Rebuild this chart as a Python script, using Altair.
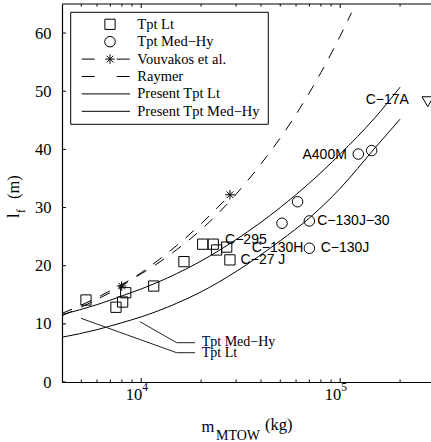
import altair as alt
import pandas as pd

# ---------------- data ----------------
lt_mass = [5280, 7470, 8070, 8360, 11560, 16400, 20380, 23020, 23930, 26900, 27920]
lt_len = [14.1, 12.85, 13.75, 15.35, 16.5, 20.7, 23.7, 23.7, 22.7, 23.2, 21.0]

mh_mass = [51000, 61100, 70000, 70000, 123300, 143900]
mh_len = [27.3, 31.0, 27.7, 23.0, 39.2, 39.8]

c17_mass = [275300]
c17_len = [48.2]

vouv_pt_mass = [7980, 27920]
vouv_pt_len = [16.5, 32.2]
vouv_line_mass = [4000, 6000, 7980, 10000, 15000, 20000, 27920]
vouv_line_len = [11.4, 14.2, 16.5, 18.8, 23.4, 27.2, 32.2]

raymer_mass = [4000, 6000, 8000, 10000, 15000, 20000, 30000, 40000, 60000, 80000, 100000, 114000]
raymer_len = [11.8, 14.5, 16.8, 18.6, 22.7, 26.2, 32.3, 37.5, 46.0, 53.2, 59.5, 63.5]

fit_mass = [4000, 6000, 8000, 10000, 15000, 20000, 30000, 50000, 70000, 100000, 150000, 200000]
fit_lt_len = [11.6, 13.3, 14.8, 16.0, 18.6, 20.8, 24.5, 30.0, 34.2, 39.2, 45.5, 50.7]
fit_mh_len = [7.7, 9.0, 10.2, 11.2, 13.5, 15.5, 19.0, 24.3, 28.2, 33.3, 40.3, 45.2]

label_text = ["C\u221217A", "C\u2212130J\u221230", "C\u2212130J", "C\u2212130H", "C\u2212295", "C\u221227 J"]
label_mass = [134300, 76700, 79800, 35900, 26400, 31600]
label_len = [48.5, 27.6, 23.0, 23.0, 24.4, 20.9]
a400_text = ["A400M"]
a400_mass = [108000]
a400_len = [39.0]

# leader lines for the curve annotations
lead_group = ["mh", "mh", "mh", "lt", "lt", "lt"]
lead_order = [0, 1, 2, 0, 1, 2]
lead_mass = [9860, 15070, 18630, 4983, 15070, 18630]
lead_len = [10.37, 6.76, 6.76, 10.95, 5.04, 5.04]
ann_text = ["Tpt Med\u2212Hy", "Tpt Lt"]
ann_mass = [20140, 20140]
ann_len = [6.9, 5.0]

y_tick_vals = [0, 10, 20, 30, 40, 50, 60]
x_major = [1e4, 1e5]
x_major_exp = ["4", "5"]
x_minor = [5000, 6000, 7000, 8000, 9000, 20000, 30000, 40000, 50000, 60000,
           70000, 80000, 90000, 200000]

legend_labels = ["Tpt Lt", "Tpt Med\u2212Hy", "Vouvakos et al.", "Raymer",
                 "Present Tpt Lt", "Present Tpt Med\u2212Hy"]

# ---------------- layout ----------------
W, H = 369, 378
SERIF = "Liberation Serif"
SANS = "Liberation Sans"
xs = alt.Scale(type="log", domain=[4000, 286000], nice=False)
ys = alt.Scale(domain=[0, 65], nice=False)
ASTER = "M-1,0H1M0,-1V1M-0.7,-0.7L0.7,0.7M-0.7,0.7L0.7,-0.7"

AX_X = alt.Axis(labels=False, ticks=False, tickSize=0, title=None, grid=False,
                domainColor="black", domainWidth=1.2)
AX_Y = alt.Axis(values=y_tick_vals, ticks=False, tickSize=0, title=None, grid=False,
                labelFont=SERIF, labelFontSize=16.5, labelColor="black", labelPadding=11,
                domainColor="black", domainWidth=1.2)


def X(f="m"):
    return alt.X(f"{f}:Q", scale=xs, axis=AX_X)


def Y(f="l"):
    return alt.Y(f"{f}:Q", scale=ys, axis=AX_Y)


def line_df(m, l):
    return pd.DataFrame({"m": m, "l": l})


def curve(m, l, dash=None):
    kw = dict(color="black", strokeWidth=1, interpolate="monotone", clip=True)
    if dash:
        kw["strokeDash"] = dash
    return alt.Chart(line_df(m, l)).mark_line(**kw).encode(x=X(), y=Y())


fit_lt = curve(fit_mass, fit_lt_len)
fit_mh = curve(fit_mass, fit_mh_len)
raymer = curve(raymer_mass, raymer_len, [11, 10])
vouv = curve(vouv_line_mass, vouv_line_len, [11, 10])


def pts(m, l, shape, size):
    return alt.Chart(line_df(m, l)).mark_point(
        shape=shape, filled=False, color="black", size=size, strokeWidth=1, opacity=1, clip=True
    ).encode(x=X(), y=Y())


squares = pts(lt_mass, lt_len, "square", 105)
circles = pts(mh_mass, mh_len, "circle", 110)
tri = pts(c17_mass, c17_len, "triangle-down", 130)
aster = pts(vouv_pt_mass, vouv_pt_len, ASTER, 90)

labels = alt.Chart(pd.DataFrame({"m": label_mass, "l": label_len, "t": label_text})).mark_text(
    font=SANS, fontSize=14, align="left", baseline="middle", color="black"
).encode(x=X(), y=Y(), text="t:N")
a400 = alt.Chart(pd.DataFrame({"m": a400_mass, "l": a400_len, "t": a400_text})).mark_text(
    font=SANS, fontSize=14, align="right", baseline="middle", color="black"
).encode(x=X(), y=Y(), text="t:N")

leaders = alt.Chart(pd.DataFrame({"m": lead_mass, "l": lead_len, "g": lead_group, "o": lead_order})).mark_line(
    color="#222222", strokeWidth=1
).encode(x=X(), y=Y(), detail="g:N", order="o:Q")
ann = alt.Chart(pd.DataFrame({"m": ann_mass, "l": ann_len, "t": ann_text})).mark_text(
    font=SERIF, fontSize=14, align="left", baseline="middle", color="black"
).encode(x=X(), y=Y(), text="t:N")

# ticks (inward)
yt = pd.DataFrame({"l": y_tick_vals})
one = yt.head(1)
ytick = alt.Chart(yt).mark_rule(color="black", strokeWidth=1).encode(
    y=Y(), x=alt.value(0), x2=alt.value(4))
xmaj = pd.DataFrame({"m": x_major, "e": x_major_exp})
xmin = pd.DataFrame({"m": x_minor})


def xticks(df, y0, y1):
    return alt.Chart(df).mark_rule(color="black", strokeWidth=1).encode(
        x=X(), y=alt.value(y0), y2=alt.value(y1))


xt_layers = [xticks(xmaj, H, H - 4), xticks(xmaj, 0, 4),
             xticks(xmin, H, H - 2.5), xticks(xmin, 0, 2.5)]
top_border = alt.Chart(one).mark_rule(color="black", strokeWidth=1.2).encode(
    x=alt.value(0), x2=alt.value(W), y=alt.value(0))

# x tick labels 10^n
xl_base = alt.Chart(xmaj).mark_text(font=SERIF, fontSize=16.5, align="right", baseline="middle",
                                    color="black", dx=1).encode(
    x=X(), y=alt.value(H + 13), text=alt.value("10"))
xl_exp = alt.Chart(xmaj).mark_text(font=SERIF, fontSize=11.5, align="left", baseline="middle",
                                   color="black", dx=1).encode(
    x=X(), y=alt.value(H + 6), text="e:N")


# axis titles
def txt(t, x, y, size, angle=0, baseline="alphabetic"):
    kw = dict(font=SERIF, fontSize=size, align="left", baseline=baseline, color="black")
    if angle:
        kw["angle"] = angle
    return alt.Chart(one).mark_text(**kw).encode(
        x=alt.value(x), y=alt.value(y), text=alt.value(t))


titles = [
    txt("m", 139.5, 428, 16.5),
    txt("MTOW", 154, 436, 14),
    txt("(kg)", 203, 426, 16.5),
    txt("l", -43.5, 214, 16.5, angle=270),
    txt("f", -37.5, 209, 11.5, angle=270),
    txt("(m)", -43.5, 195, 16.5, angle=270),
]

# legend (drawn by hand, MATLAB style)
LX0, LX1, LY0, LY1 = 8.7, 206.3, 8.3, 120.3
row_y = [20.3 + 17.4 * i for i in range(6)]
leg_layers = [alt.Chart(one).mark_rect(fill="white", stroke="black", strokeWidth=1).encode(
    x=alt.value(LX0), x2=alt.value(LX1), y=alt.value(LY0), y2=alt.value(LY1))]
mk_x, ln0, ln1, tx = 48, 19.7, 68, 75.3
for i, (shape, size) in enumerate([("square", 105), ("circle", 110), (ASTER, 90)]):
    leg_layers.append(alt.Chart(one).mark_point(shape=shape, filled=False, color="black",
                                                size=size, strokeWidth=1, opacity=1).encode(
        x=alt.value(mk_x), y=alt.value(row_y[i])))
for i, dash in [(2, [13, 22]), (3, [13, 22]), (4, None), (5, None)]:
    kw = dict(color="black", strokeWidth=1)
    if dash:
        kw["strokeDash"] = dash
    leg_layers.append(alt.Chart(one).mark_rule(**kw).encode(
        x=alt.value(ln0), x2=alt.value(ln1), y=alt.value(row_y[i])))
for i, t in enumerate(legend_labels):
    leg_layers.append(alt.Chart(one).mark_text(font=SERIF, fontSize=14.5, align="left",
                                               baseline="middle", color="black").encode(
        x=alt.value(tx), y=alt.value(row_y[i] + 0.5), text=alt.value(t)))

chart = alt.layer(
    fit_lt, fit_mh, raymer, vouv, squares, circles, tri, aster, labels, a400,
    leaders, ann, ytick, *xt_layers, top_border,
    xl_base, xl_exp, *titles, *leg_layers
).properties(
    width=W, height=H,
    autosize=alt.AutoSizeParams(type="none"),
    padding={"left": 62, "top": 4, "right": 0, "bottom": 60},
    background="white",
).configure_view(stroke=None)

chart.save("out.html", embed_options={"renderer": "svg", "actions": False})
